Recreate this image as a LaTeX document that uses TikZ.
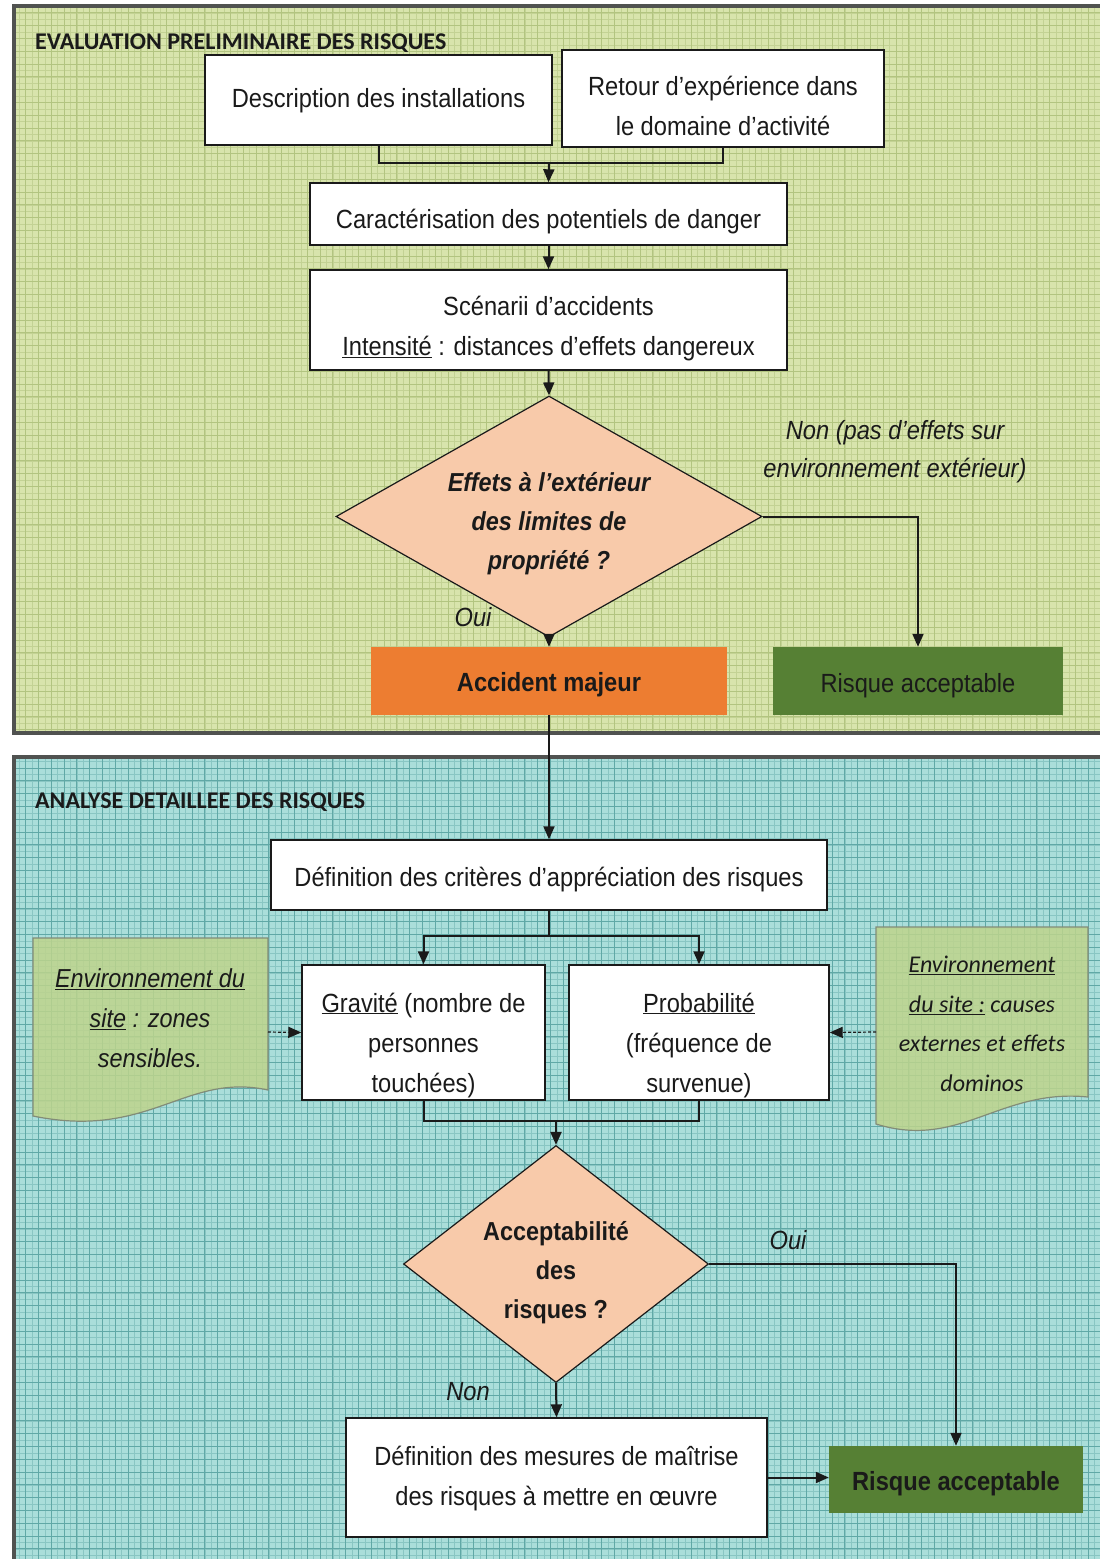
\documentclass[tikz,border=0pt]{standalone}
\usepackage{fontspec}
\setmainfont[FakeStretch=0.9]{Liberation Sans}
\newfontfamily\hdfont{Carlito}
\usetikzlibrary{arrows.meta,shapes.geometric}

\definecolor{topbg}{RGB}{216,228,172}
\definecolor{topgrid}{RGB}{178,196,128}
\definecolor{botbg}{RGB}{170,222,218}
\definecolor{botgrid}{RGB}{96,168,166}
\definecolor{frame}{RGB}{80,82,80}
\definecolor{peach}{RGB}{248,202,170}
\definecolor{orangebox}{RGB}{237,125,49}
\definecolor{greenbox}{RGB}{86,128,52}
\definecolor{docfill}{RGB}{190,212,140}
\definecolor{docedge}{RGB}{130,140,120}
\definecolor{ink}{RGB}{26,26,26}

% centred lines of text, lowered by #1 without changing the box size
\newcommand\tlines[2]{\raisebox{-#1}[\height][\depth]{\begin{tabular}{@{}c@{}}#2\end{tabular}}}

\tikzset{
  box/.style={draw=ink, line width=1.4pt, fill=white, inner sep=0pt,
    text=ink, font=\fontsize{26.3}{40}\selectfont},
  decision/.style={diamond, draw=ink, line width=1.2pt, fill=peach, inner sep=0pt,
    text=ink, font=\fontsize{26}{39}\selectfont\bfseries},
  result/.style={draw=none, inner sep=0pt, text=ink,
    font=\fontsize{26.3}{30}\selectfont},
  header/.style={anchor=west, inner sep=0pt, text=ink,
    font=\hdfont\fontsize{24}{26}\selectfont\bfseries},
  tag/.style={inner sep=0pt, align=center, text=ink,
    font=\fontsize{26.3}{38}\selectfont\itshape},
  line/.style={draw=ink, line width=2pt},
  arr/.style={line, -{Triangle[length=13pt,width=11pt]}},
  darr/.style={draw=ink, line width=1.2pt, dashed, dash pattern=on 3pt off 2pt,
    -{Triangle[length=13pt,width=11pt]}},
  docshape/.style={draw=docedge, line width=1.2pt, fill=docfill, fill opacity=0.85}
}

\begin{document}
\begin{tikzpicture}[x=1pt,y=-1pt]
\useasboundingbox (0,0) rectangle (1100,1559);
\fill[white] (0,0) rectangle (1100,1559);

% upper panel: preliminary evaluation
\begin{scope}
  \clip (14,6) rectangle (1100,733);
  \fill[topbg] (14,6) rectangle (1100,733);
  \draw[topgrid!55!topbg, line width=0.6pt, step=6.4pt] (14,6) grid (1100,733);
  \draw[topgrid, line width=0.9pt, step=12.8pt] (14,6) grid (1100,733);
\end{scope}
\draw[frame, line width=4pt] (1102,6) -- (14,6) -- (14,733) -- (1102,733);

% lower panel: detailed analysis
\begin{scope}
  \clip (14,757) rectangle (1100,1559);
  \fill[botbg] (14,757) rectangle (1100,1559);
  \draw[botgrid!45!botbg, line width=0.6pt, step=6.4pt] (14,757) grid (1100,1559);
  \draw[botgrid, line width=0.9pt, step=12.8pt] (14,757) grid (1100,1559);
\end{scope}
\draw[frame, line width=4pt] (1102,757) -- (14,757) -- (14,1562);

\node[header] (h1) at (35,43) {EVALUATION PRELIMINAIRE DES RISQUES};
\node[header] (h2) at (35,802) {ANALYSE DETAILLEE DES RISQUES};

% ---- preliminary evaluation ----
\node[box, minimum width=347pt, minimum height=90pt] (desc) at (378.5,100)
  {\tlines{-1pt}{Description des installations}};
\node[box, minimum width=322pt, minimum height=97pt] (retour) at (723,98.5)
  {\tlines{8.5pt}{Retour d’expérience dans\\le domaine d’activité}};
\node[box, minimum width=477pt, minimum height=62pt] (carac) at (548.5,214)
  {\tlines{6pt}{Caractérisation des potentiels de danger}};
\node[box, minimum width=477pt, minimum height=100pt] (scen) at (548.5,320)
  {\tlines{7.5pt}{Scénarii d’accidents\\\underline{Intensité} : distances d’effets dangereux}};
\node[decision, minimum width=426pt, minimum height=241pt, aspect=1.77,
  font=\fontsize{26}{39}\selectfont\bfseries\itshape] (d1) at (549,516.5)
  {\tlines{6pt}{Effets à l’extérieur\\des limites de\\propriété ?}};
\node[result, fill=orangebox, minimum width=356pt, minimum height=68pt,
  font=\fontsize{26.3}{30}\selectfont\bfseries] (acc) at (549,681)
  {\tlines{4.5pt}{Accident majeur}};
\node[result, fill=greenbox, minimum width=290pt, minimum height=68pt] (ok1) at (918,681)
  {\tlines{5pt}{Risque acceptable}};

\coordinate (j1) at (549,163);
\draw[line] (desc.south) |- (j1) -| (retour.south);
\draw[arr] (j1) -- (carac.north);
\draw[arr] (carac.south) -- (scen.north);
\draw[arr] (scen.south) -- (d1.north);
\draw[arr] (d1.east) -| (ok1.north);
\draw[arr] (d1.south) -- (acc.north);

\node[tag] (non1) at (895,452) {Non (pas d’effets sur\\environnement extérieur)};
\node[tag] (oui1) at (473,617) {Oui};

% ---- detailed analysis ----
\node[box, minimum width=556pt, minimum height=70pt] (defc) at (549,875)
  {\tlines{3pt}{Définition des critères d’appréciation des risques}};
\node[box, minimum width=243pt, minimum height=135pt] (grav) at (423.5,1032.5)
  {\tlines{11.5pt}{\underline{Gravité} (nombre de\\personnes\\touchées)}};
\node[box, minimum width=260pt, minimum height=135pt] (prob) at (699,1032.5)
  {\tlines{11.5pt}{\underline{Probabilité}\\(fréquence de\\survenue)}};
\node[decision, minimum width=305pt, minimum height=237pt, aspect=1.29] (d2) at (556,1264)
  {\tlines{8pt}{Acceptabilité\\des\\risques ?}};
\node[box, minimum width=421pt, minimum height=119pt] (mes) at (556.5,1477.5)
  {\tlines{0pt}{Définition des mesures de maîtrise\\des risques à mettre en œuvre}};
\node[result, fill=greenbox, minimum width=254pt, minimum height=67pt,
  font=\fontsize{26.3}{30}\selectfont\bfseries] (ok2) at (956,1479.5)
  {\tlines{5pt}{Risque acceptable}};

\draw[arr] (acc.south) -- (defc.north);
\coordinate (j2) at (549,936);
\draw[line] (defc.south) -- (j2);
\draw[arr] (j2) -| (grav.north);
\draw[arr] (j2) -| (prob.north);
\coordinate (j3) at (556,1121);
\draw[line] (grav.south) |- (j3) -| (prob.south);
\draw[arr] (j3) -- (d2.north);
\draw[arr] (d2.east) -| (ok2.north);
\draw[arr] (d2.south) -- (mes.north);
\draw[arr] (mes.east) -- (mes.east -| ok2.west);

\node[tag] (oui2) at (788,1240) {Oui};
\node[tag] (non2) at (468,1392) {Non};

% site environment documents
\draw[docshape] (33,938) -- (268,938) -- (268,1090)
  .. controls (185,1072) and (150,1140) .. (33,1116) -- cycle;
\node[tag, font=\fontsize{26}{40}\selectfont\itshape] (envL) at (150,1018)
  {\underline{Environnement du}\\\underline{site} : zones\\sensibles.};
\coordinate (envLr) at (268,1032);

\draw[docshape] (876,927) -- (1088,927) -- (1088,1097)
  .. controls (1000,1088) and (960,1150) .. (876,1124) -- cycle;
\node[tag, font=\hdfont\fontsize{24}{39.5}\selectfont\itshape] (envR) at (982,1024)
  {\underline{Environnement}\\\underline{du site :} causes\\externes et effets\\dominos};
\coordinate (envRl) at (876,1032);

\draw[darr] (envLr) -- (grav.west);
\draw[darr] (envRl) -- (prob.east);
\end{tikzpicture}
\end{document}
